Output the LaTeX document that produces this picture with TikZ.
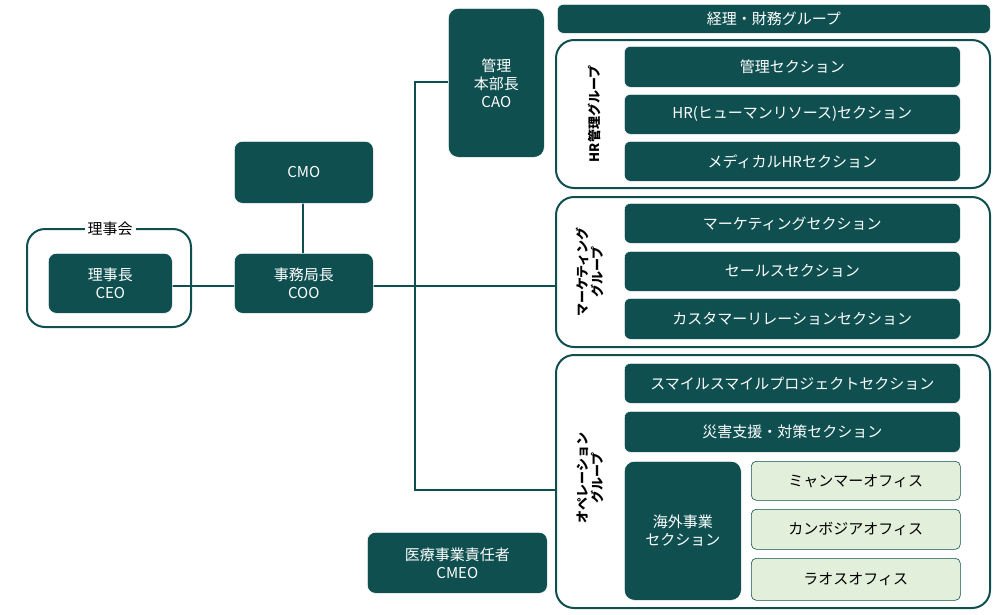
\documentclass[tikz,border=0pt]{standalone}
\usepackage{fontspec}
\setmainfont{Noto Sans CJK JP}
\definecolor{teal}{HTML}{0F4F50}
\definecolor{lgreen}{HTML}{E2EFDA}
\begin{document}
\begin{tikzpicture}[x=1pt,y=-1pt,
 box/.style={draw=white,line width=0.6pt,fill=teal,rounded corners=6pt,text=white,font=\fontsize{15}{18}\selectfont,align=center,inner sep=0},
 off/.style={draw=teal,line width=0.6pt,fill=lgreen,rounded corners=5pt,text=black,font=\fontsize{15}{18}\selectfont,inner sep=0},
 grp/.style={draw=teal,line width=2pt,rounded corners=18pt},
 gl/.style={rotate=90,font=\bfseries\fontsize{13}{15}\selectfont,align=center,text=black},
 ln/.style={draw=teal,line width=2pt}]
\useasboundingbox (0,0) rectangle (998,614);
\newcommand{\bx}[6][box]{\node[#1,minimum width=#4-#2,minimum height=#5-#3,anchor=north west] (#6) at (#2,#3) {};}
% groups
\draw[grp] (556,40) rectangle (990,188);
\draw[grp] (556,197) rectangle (990,347);
\draw[grp] (556,355) rectangle (990,608);
\draw[grp] (27,229) rectangle (191,327);
\node[fill=white,font=\fontsize{15}{18}\selectfont,inner sep=3pt] (rijikai) at (110,229) {理事会};
\node[gl] (g1) at (594,114) {HR管理グループ};
\node[gl] (g2) at (590,272) {マーケティング\\グループ};
\node[gl] (g3) at (590,478) {オペレーション\\グループ};
% connectors
\coordinate (v1) at (415,82);
\coordinate (v2) at (415,490);
\coordinate (v3) at (556,490);
\coordinate (v4) at (556,286);
\draw[ln] (148,286) -- (v4);
\draw[ln] (303,170) -- (303,286);
\draw[ln] (448,82) -- (v1) -- (v2) -- (v3);
% boxes
\node[box,minimum width=433,minimum height=29,anchor=north west] (fin) at (557,4) {経理・財務グループ};
\node[box,minimum width=96,minimum height=149,anchor=north west,rounded corners=10pt] (cao) at (448,8) {管理\\本部長\\CAO};
\node[box,minimum width=139,minimum height=62,anchor=north west,rounded corners=8pt] (cmo) at (234,141) {CMO};
\node[box,minimum width=139,minimum height=60,anchor=north west,rounded corners=8pt] (coo) at (234,253) {事務局長\\COO};
\node[box,minimum width=124,minimum height=60,anchor=north west,rounded corners=8pt] (ceo) at (48,253) {理事長\\CEO};
\node[box,minimum width=180,minimum height=61,anchor=north west,rounded corners=8pt] (cmeo) at (367,532) {医療事業責任者\\CMEO};
\foreach \n/\y/\h/\t in {s1/46/41/管理セクション, s2/94/40/HR(ヒューマンリソース)セクション, s3/141/40/メディカルHRセクション,
 s4/203/40/マーケティングセクション, s5/251/40/セールスセクション, s6/298/41/カスタマーリレーションセクション,
 s7/363/40/スマイルスマイルプロジェクトセクション, s8/411/41/災害支援・対策セクション}
 \node[box,minimum width=336,minimum height=\h,anchor=north west] (\n) at (624,\y) {\t};
\node[box,minimum width=117,minimum height=139,anchor=north west,rounded corners=10pt] (kaigai) at (624,461) {海外事業\\セクション};
\node[off,minimum width=209,minimum height=39,anchor=north west] (o1) at (751,461) {ミャンマーオフィス};
\node[off,minimum width=209,minimum height=40,anchor=north west] (o2) at (751,509) {カンボジアオフィス};
\node[off,minimum width=209,minimum height=42,anchor=north west] (o3) at (751,558) {ラオスオフィス};
\end{tikzpicture}
\end{document}
